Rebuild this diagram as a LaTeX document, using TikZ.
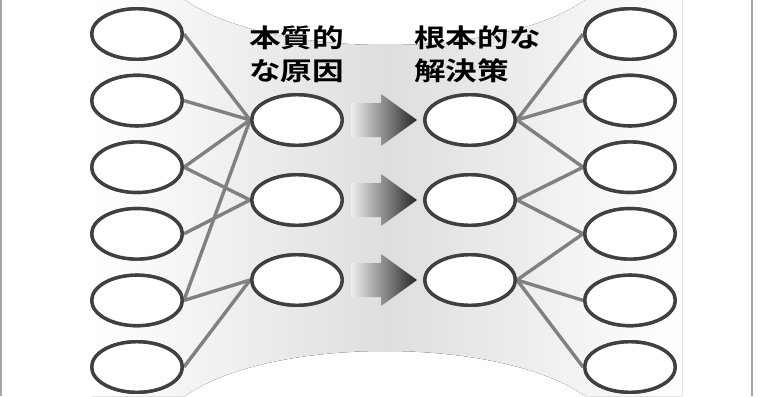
\documentclass[tikz,border=0pt]{standalone}
\usepackage{fontspec}
\newfontfamily\cjk{Noto Sans CJK JP}[BoldFont={Noto Sans CJK JP Bold}]
\usetikzlibrary{shapes.geometric}
\newcommand\heavytext[1]{\special{pdf:content 2 Tr 0.7 w}\scalebox{1.24}[1]{#1}\special{pdf:content 0 Tr 0.4 w}}
\begin{document}
\begin{tikzpicture}[x=1pt,y=-1pt,
  oval/.style={ellipse, draw=black!75, line width=3.4pt, fill=white,
    minimum width=90.5pt, minimum height=50.5pt, inner sep=0pt},
  link/.style={draw=black!50, line width=3.4pt},
  arrowfill/.style={left color=black!7, right color=black!85},
  frame/.style={draw=black!35, line width=2.2pt},
  lbl/.style={font=\cjk\bfseries\fontsize{25.5}{33}\selectfont, inner sep=0pt, anchor=base west}]
\useasboundingbox (0,0) rectangle (778,396);
% background funnel
\fill[left color=white, right color=white, middle color=black!13]
  (92,0) -- (185,0) .. controls (270,60) and (500,60) .. (585,0) -- (682,0)
  -- (682,396) -- (585,396) .. controls (500,336) and (270,336) .. (185,396)
  -- (92,396) -- cycle;
% frame lines
\draw[frame] (1,0) -- (1,396);
\draw[frame] (752,0) -- (752,396);
% ovals
\foreach \i/\y in {1/34,2/100.6,3/167.2,4/233.8,5/300.4,6/367}{
  \node[oval] (L\i) at (137,\y) {};
  \node[oval] (R\i) at (630,\y) {};
}
\foreach \i/\y in {1/120,2/200,3/280}{
  \node[oval] (M\i) at (297,\y) {};
  \node[oval] (N\i) at (470,\y) {};
}
% links
\foreach \a/\b in {L1/M1,L2/M1,L3/M1,L3/M2,L4/M2,L5/M1,L5/M3,L6/M3}
  \draw[link] (\a.east) -- (\b.west);
\foreach \a/\b in {N1/R1,N1/R2,N1/R3,N2/R3,N2/R4,N3/R4,N3/R5,N3/R6}
  \draw[link] (\a.east) -- (\b.west);
% redraw ovals on top of links
\foreach \n in {L1,L2,L3,L4,L5,L6,R1,R2,R3,R4,R5,R6,M1,M2,M3,N1,N2,N3}
  \node[oval] at (\n) {};
% block arrows
\foreach \y in {120,200,280}{
  \path[arrowfill] (351,\y-17) -- (381,\y-17) -- (381,\y-26) -- (417,\y)
    -- (381,\y+26) -- (381,\y+17) -- (351,\y+17) -- cycle;
}
% labels
\node[lbl] (t1a) at (249,48) {\heavytext{本質的}};
\node[lbl] (t1b) at (249,80) {\heavytext{な原因}};
\node[lbl] (t2a) at (414,48) {\heavytext{根本的な}};
\node[lbl] (t2b) at (414,80) {\heavytext{解決策}};
\end{tikzpicture}
\end{document}
